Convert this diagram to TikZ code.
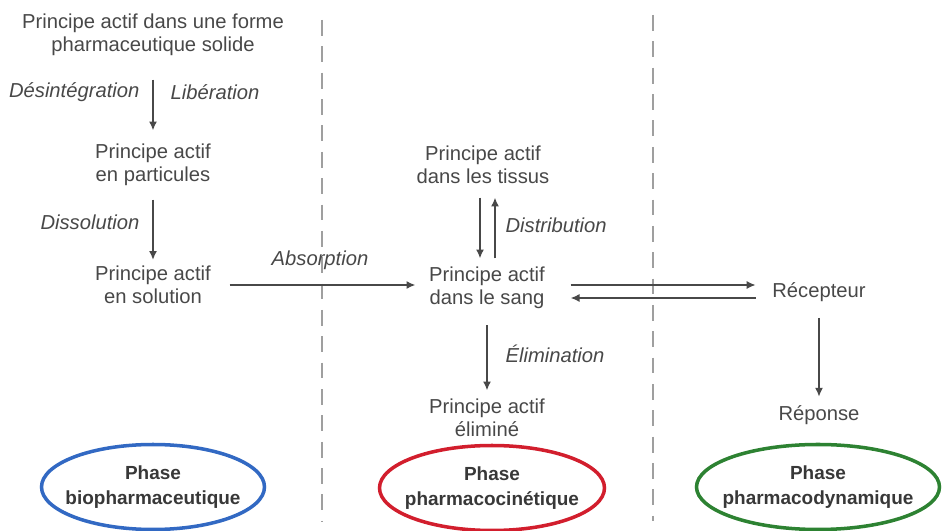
\documentclass[tikz,border=0pt]{standalone}
\usepackage{fontspec}
\setmainfont{Liberation Sans}
\definecolor{txtgray}{RGB}{72, 72, 72}
\definecolor{phaseblue}{RGB}{50, 105, 195}
\definecolor{phasered}{RGB}{210, 30, 45}
\definecolor{phasegreen}{RGB}{45, 130, 50}
\usetikzlibrary{shapes, arrows.meta, positioning, calc}

\begin{document}
\begin{tikzpicture}[
  txt/.style={text=txtgray, align=center, font=\fontsize{11.5}{13}\selectfont, inner sep=2pt},
  lbl/.style={text=txtgray, font=\fontsize{11.5}{13}\selectfont\itshape, inner sep=0pt},
  flow/.style={draw=txtgray, line width=0.7pt, -{Latex[length=5pt, width=4.5pt]}},
  phase/.style={ellipse, line width=2pt, text=black!78, align=center, inner xsep=-0.2cm, inner ysep=0pt,
                font=\fontsize{10.8}{14}\selectfont\bfseries, minimum height=1.7cm},
  sep/.style={draw=gray!75, dash pattern=on 9pt off 6pt, line width=0.7pt}
]
  \useasboundingbox (0,0) rectangle (18.9,10.62);

  % separateurs des phases
  \draw[sep] (6.44,10.22) -- (6.44,0.2);
  \draw[sep] (13.06,10.32) -- (13.06,0.2);

  % phase biopharmaceutique
  \node[txt] (forme) at (3.06,9.92) {Principe actif dans une forme\\pharmaceutique solide};
  \node[txt] (particules) at (3.06,7.32) {Principe actif\\en particules};
  \node[txt] (solution) at (3.06,4.92) {Principe actif\\en solution};

  % phase pharmacocinetique
  \node[txt] (tissus) at (9.66,7.32) {Principe actif\\dans les tissus};
  \node[txt] (sang) at (9.74,4.86) {Principe actif\\dans le sang};
  \node[txt] (elimine) at (9.74,2.26) {Principe actif\\éliminé};

  % phase pharmacodynamique
  \node[txt] (recepteur) at (16.38,4.78) {Récepteur};
  \node[txt] (reponse) at (16.38,2.32) {Réponse};

  \draw[flow, shorten <=0.4cm, shorten >=0.2cm] (forme) -- (particules)
    node[lbl, pos=0.4, left=0.26cm] {Désintégration}
    node[lbl, pos=0.4, right=0.34cm] {Libération};
  \draw[flow, shorten <=0.2cm, shorten >=0.05cm] (particules) -- (solution)
    node[lbl, pos=0.45, left=0.26cm] {Dissolution};
  \draw[flow, shorten <=0.3cm, shorten >=0.2cm] (solution.east) -- (solution.east -| sang.west)
    node[lbl, midway, above=0.3cm] {Absorption};

  \draw[flow, shorten <=0.2cm, shorten >=0.1cm] ([xshift=-0.06cm]tissus.south) -- ([xshift=-0.06cm]tissus.south |- sang.north);
  \draw[flow, shorten <=0.1cm, shorten >=0.2cm] ([xshift=0.24cm]tissus.south |- sang.north) -- ([xshift=0.24cm]tissus.south)
    node[lbl, midway, right=0.2cm] {Distribution};
  \draw[flow, shorten <=0.25cm, shorten >=0.1cm] (sang) -- (elimine)
    node[lbl, midway, right=0.36cm] {Élimination};

  \draw[flow, shorten <=0.44cm, shorten >=0.26cm] ([yshift=0.06cm]sang.east) -- ([yshift=0.06cm]sang.east -| recepteur.west);
  \draw[flow, shorten <=0.26cm, shorten >=0.44cm] ([yshift=-0.2cm]sang.east -| recepteur.west) -- ([yshift=-0.2cm]sang.east);
  \draw[flow, shorten <=0.25cm, shorten >=0.1cm] (recepteur) -- (reponse);

  % les trois phases
  \node[phase, draw=phaseblue, minimum width=4.46cm] (bio) at (3.06,0.88) {Phase\\biopharmaceutique};
  \node[phase, draw=phasered, minimum width=4.5cm] (cinetique) at (9.84,0.86) {Phase\\pharmacocinétique};
  \node[phase, draw=phasegreen, minimum width=4.86cm] (dynamique) at (16.36,0.88) {Phase\\pharmacodynamique};
\end{tikzpicture}
\end{document}
